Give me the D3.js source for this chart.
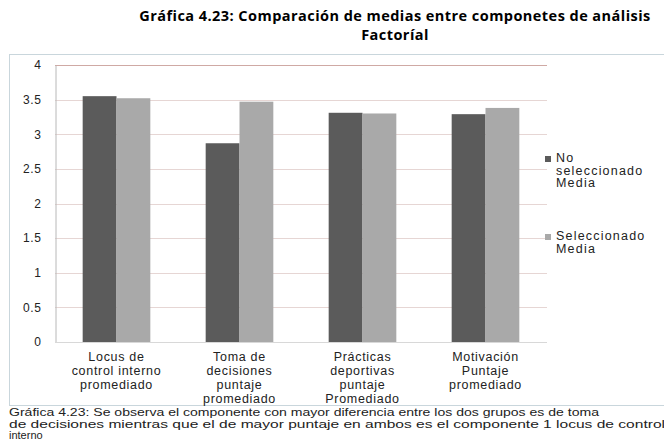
<!DOCTYPE html>
<html>
<head>
  <meta charset="UTF-8">
  <style>
    body { margin: 0; background-color: #fff; }
    text { font-family: "Liberation Sans", Arial, sans-serif; }
  </style>
</head>
<body>
<svg></svg>
<script src="https://d3js.org/d3.v7.min.js"></script>
<script>

// data
let categories = [
  ["Locus de", "control interno", "promediado"],
  ["Toma de", "decisiones", "puntaje", "promediado"],
  ["Prácticas", "deportivas", "puntaje", "Promediado"],
  ["Motivación", "Puntaje", "promediado"]
];
let seriesNames = [["No", "seleccionado", "Media"], ["Seleccionado", "Media"]];
let noSeleccionado = [3.55, 2.87, 3.31, 3.29];
let seleccionado = [3.52, 3.47, 3.30, 3.38];
let yTicks = [0, 0.5, 1, 1.5, 2, 2.5, 3, 3.5, 4];
let colors = ["#5b5b5b", "#a9a9a9"];

let width = 664, height = 446;
let svg = d3.select("svg").attr("width", width).attr("height", height);

// title
let titleLines = ["Gráfica  4.23: Comparación  de medias entre componetes de análisis", "Factoríal"];
titleLines.forEach((s, k) => {
  svg.append("text").attr("x", 395).attr("y", 21 + k * 19).attr("text-anchor", "middle")
    .style("font-family", "'Open Sans', sans-serif").style("font-weight", "bold")
    .style("font-size", "14.5px").style("letter-spacing", "0.45px")
    .text(s);
});

// chart frame
svg.append("rect").attr("x", 9.5).attr("y", 54.5).attr("width", 660).attr("height", 351)
  .attr("fill", "none").attr("stroke", "#c9d6dc");

let x0 = d3.scaleBand().domain(d3.range(categories.length)).range([55, 547]).paddingInner(0.45).paddingOuter(0.225);
let x1 = d3.scaleBand().domain([0, 1]).range([0, x0.bandwidth()]);
let y = d3.scaleLinear().domain([0, 4]).range([342, 65]);

// gridlines
svg.append("g").selectAll("line").data(yTicks.filter(d => d > 0)).enter().append("line")
  .attr("x1", 55).attr("x2", 547)
  .attr("y1", d => Math.round(y(d)) + 0.5).attr("y2", d => Math.round(y(d)) + 0.5)
  .attr("stroke", d => d == 4 ? "#cfa9a4" : "#e6d6d4").attr("stroke-width", 1);

// y axis
let yAxis = d3.axisLeft(y).tickValues(yTicks).tickSize(0).tickPadding(14).tickFormat(d => String(d));
let gy = svg.append("g").attr("transform", "translate(55.5,0)").call(yAxis);
gy.select(".domain").attr("stroke", "#b8b8b8");
gy.selectAll("text").style("font-size", "12px").style("letter-spacing", "0.6px").attr("fill", "#222");

// baseline
svg.append("line").attr("x1", 55).attr("x2", 547).attr("y1", 342.5).attr("y2", 342.5).attr("stroke", "#d8d8d8");

// bars
let groups = svg.append("g").selectAll("g").data(categories).enter().append("g")
  .attr("transform", (d, i) => "translate(" + x0(i) + ",0)");
groups.selectAll("rect").data((d, i) => [noSeleccionado[i], seleccionado[i]]).enter().append("rect")
  .attr("x", (d, j) => x1(j)).attr("width", x1.bandwidth())
  .attr("y", d => y(d)).attr("height", d => y(0) - y(d))
  .attr("fill", (d, j) => colors[j]);

// category labels
categories.forEach((lines, i) => {
  let t = svg.append("text").attr("text-anchor", "middle").style("font-size", "12.5px")
    .style("letter-spacing", "0.7px").attr("fill", "#222");
  lines.forEach((s, k) => {
    t.append("tspan").attr("x", x0(i) + x0.bandwidth() / 2).attr("y", 361 + k * 14).text(s);
  });
});

// legend
let legendY = [162, 240];
seriesNames.forEach((lines, i) => {
  svg.append("rect").attr("x", 545).attr("y", legendY[i] - 6).attr("width", 6).attr("height", 6).attr("fill", colors[i]);
  let t = svg.append("text").style("font-size", "12.5px").style("letter-spacing", "1.2px").attr("fill", "#222");
  lines.forEach((s, k) => {
    t.append("tspan").attr("x", 556).attr("y", legendY[i] + k * 12.5).text(s);
  });
});

// caption
let caption = [
  "Gráfica 4.23: Se observa el componente con mayor diferencia entre los dos grupos es de toma",
  "de decisiones mientras que  el de mayor puntaje en ambos  es el componente 1 locus de control",
  "interno"
];
let capLen = [590, 656, null];
caption.forEach((s, k) => {
  let t = svg.append("text").attr("x", 9).attr("y", 416 + k * 11.5).style("font-size", "11px").attr("fill", "#222").text(s);
  if (capLen[k]) t.attr("textLength", capLen[k]).attr("lengthAdjust", "spacingAndGlyphs");
});

</script>
</body>
</html>
